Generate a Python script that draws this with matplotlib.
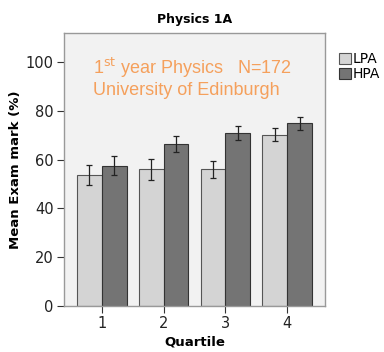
import numpy as np
import matplotlib.pyplot as plt

# data
quartiles = [1, 2, 3, 4]
lpa = [53.7, 56.0, 56.1, 70.2]
lpa_err = [4.0, 4.5, 3.4, 2.7]
hpa = [57.6, 66.4, 71.1, 74.9]
hpa_err = [3.9, 3.3, 2.9, 2.6]

fig = plt.figure(figsize=(3.84, 3.52), dpi=100)
ax = fig.add_axes([0.167, 0.131, 0.679, 0.775])
ax.set_facecolor('#f2f2f2')

x = np.array(quartiles)
w = 0.4
ax.bar(x - w/2, lpa, w, color='#d4d4d4', edgecolor='#555555', linewidth=0.8, label='LPA')
ax.bar(x + w/2, hpa, w, color='#747474', edgecolor='#333333', linewidth=0.8, label='HPA')
ax.errorbar(x - w/2, lpa, yerr=lpa_err, fmt='none', ecolor='#222222', elinewidth=0.9, capsize=2.5, capthick=0.9)
ax.errorbar(x + w/2, hpa, yerr=hpa_err, fmt='none', ecolor='#222222', elinewidth=0.9, capsize=2.5, capthick=0.9)

ax.set_xlim(0.39, 4.61)
ax.set_ylim(0, 112)
ax.set_xticks(quartiles)
ax.set_yticks([0, 20, 40, 60, 80, 100])
ax.tick_params(labelsize=10.5, length=5, width=0.8, color='#333333', labelcolor='#222222', pad=2.5)
for s in ax.spines.values():
    s.set_color('#999999')
    s.set_linewidth(1)

ax.set_title('Physics 1A', fontsize=9, fontweight='bold', pad=7)
ax.set_xlabel('Quartile', fontsize=9.5, fontweight='bold', labelpad=3)
ax.set_ylabel('Mean Exam mark (%)', fontsize=9.5, fontweight='bold', labelpad=3)

orange = '#f5a05c'
ax.text(0.11, 0.872, '1$^{\\mathrm{st}}$ year Physics   N=172', transform=ax.transAxes,
        fontsize=13, color=orange, family='Liberation Sans', va='center')
ax.text(0.11, 0.791, 'University of Edinburgh', transform=ax.transAxes,
        fontsize=13, color=orange, family='Liberation Sans', va='center')

leg = ax.legend(loc='upper left', bbox_to_anchor=(1.055, 0.93), frameon=False, fontsize=10,
                handlelength=0.85, handleheight=0.85, handletextpad=0.15, labelspacing=0.05,
                borderpad=0, borderaxespad=0)

fig.savefig('out.png', dpi=100)
